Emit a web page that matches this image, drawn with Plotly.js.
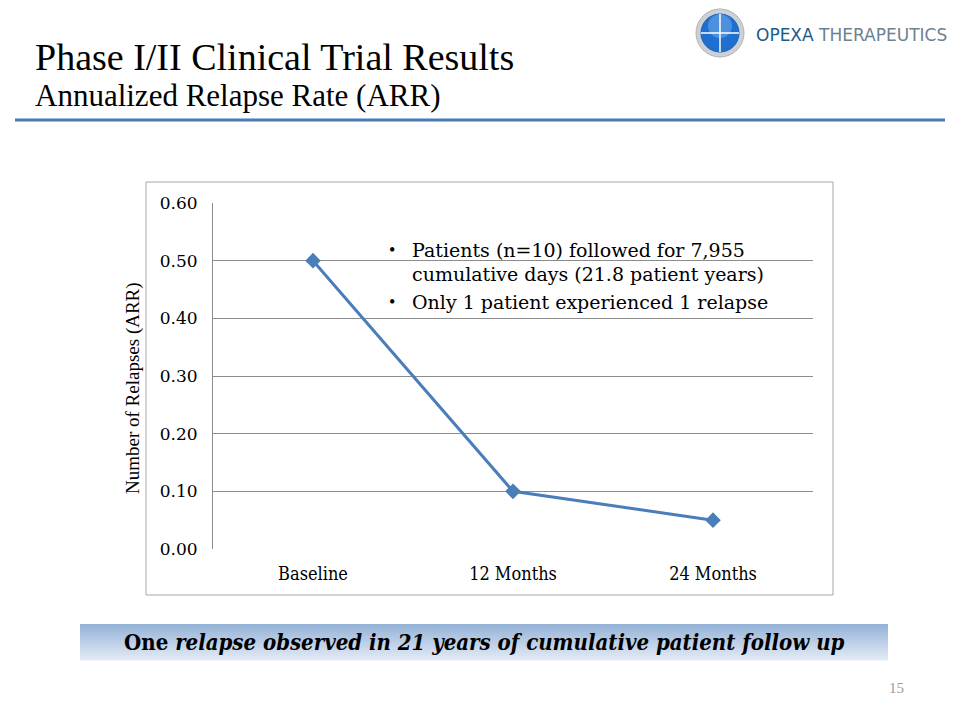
<!DOCTYPE html>
<html>
<head>
<meta charset="utf-8">
<script src="https://cdn.plot.ly/plotly-3.0.1.min.js"></script>
<style>
html,body{margin:0;padding:0;background:#fff;}
#chart{width:960px;height:720px;}
</style>
</head>
<body>
<div id="chart"></div>
<script>
// ---- data ----
var categories = ["Baseline", "12 Months", "24 Months"];
var arrValues = [0.50, 0.10, 0.05];
var yTickVals = [0, 0.1, 0.2, 0.3, 0.4, 0.5, 0.6];
var yTickText = ["0.00", "0.10", "0.20", "0.30", "0.40", "0.50", "0.60"];
var bulletLines = [
  "Patients (n=10) followed for 7,955",
  "cumulative days (21.8 patient years)",
  "Only 1 patient experienced 1 relapse"
];

// ---- layout geometry (pixels) ----
var W = 960, H = 720;
var L = 213, R = 813, T = 203, B = 549;
function px(x){ return (x - L) / (R - L); }
function py(y){ return (B - y) / (B - T); }

var serif = "Liberation Serif, Times New Roman, serif";
var wide = "DejaVu Serif, Georgia, serif";
var cond = "DejaVu Serif Condensed, DejaVu Serif, serif";

var shapes = [];
// chart frame
shapes.push({type:"rect", xref:"paper", yref:"paper", x0:px(146), x1:px(833), y0:py(595), y1:py(182),
  line:{color:"#a6a6a6", width:1}, fillcolor:"rgba(0,0,0,0)", layer:"below"});
// white box behind bullet text
shapes.push({type:"rect", xref:"paper", yref:"paper", x0:px(377), x1:px(814), y0:py(324), y1:py(231),
  line:{width:0}, fillcolor:"#ffffff", layer:"between"});
// blue rule under title
shapes.push({type:"line", xref:"paper", yref:"paper", x0:px(15), x1:px(945), y0:py(120), y1:py(120),
  line:{color:"#4a7ab4", width:3}});
// banner gradient
var bTop = 624, bBot = 660, strips = 18;
for (var i = 0; i < strips; i++) {
  var t = i / (strips - 1);
  var r = Math.round(149 + (225 - 149) * t);
  var g = Math.round(179 + (233 - 179) * t);
  var b = Math.round(215 + (245 - 215) * t);
  var y0 = bTop + (bBot - bTop) * i / strips;
  var y1 = bTop + (bBot - bTop) * (i + 1) / strips;
  shapes.push({type:"rect", xref:"paper", yref:"paper", x0:px(80), x1:px(888), y0:py(y1+0.5), y1:py(y0),
    line:{width:0}, fillcolor:"rgb("+r+","+g+","+b+")"});
}
// logo
function circ(cx, cy, rad, fill, lineColor, lw){
  return {type:"circle", xref:"paper", yref:"paper", x0:px(cx-rad), x1:px(cx+rad), y0:py(cy+rad), y1:py(cy-rad),
    fillcolor:fill, line:{color:lineColor, width:lw}};
}
shapes.push(circ(720, 33, 24, "#cdd0d4", "#b0b4b8", 1));
shapes.push(circ(720, 33, 19, "#1f6fd0", "#1a5fb5", 1));
shapes.push(circ(720, 26, 12, "rgba(130,185,240,0.45)", "rgba(0,0,0,0)", 0));
shapes.push({type:"line", xref:"paper", yref:"paper", x0:px(720), x1:px(720), y0:py(52), y1:py(14), line:{color:"#ffffff", width:1.5}});
shapes.push({type:"line", xref:"paper", yref:"paper", x0:px(701), x1:px(739), y0:py(33), y1:py(33), line:{color:"#ffffff", width:1.5}});

var annotations = [
  {xref:"paper", yref:"paper", x:px(33), y:py(57), xanchor:"left", yanchor:"middle", showarrow:false,
   text:"Phase I/II Clinical Trial Results", font:{family:serif, size:38, color:"#000"}},
  {xref:"paper", yref:"paper", x:px(33), y:py(96), xanchor:"left", yanchor:"middle", showarrow:false,
   text:"Annualized Relapse Rate (ARR)", font:{family:serif, size:31, color:"#000"}},
  {xref:"paper", yref:"paper", x:px(754), y:py(35), xanchor:"left", yanchor:"middle", showarrow:false,
   text:"<span style='color:#1d5b88'>OPEXA</span> THERAPEUTICS", font:{family:"DejaVu Sans, sans-serif", size:17, color:"#6d8192"}},
  {xref:"paper", yref:"paper", x:px(133), y:py(388), xanchor:"center", yanchor:"middle", showarrow:false, textangle:-90,
   text:"Number of Relapses (ARR)", font:{family:serif, size:19, color:"#000"}},
  {xref:"paper", yref:"paper", x:px(387), y:py(250), xanchor:"left", yanchor:"middle", showarrow:false,
   text:"•", font:{family:serif, size:18, color:"#000"}},
  {xref:"paper", yref:"paper", x:px(387), y:py(302), xanchor:"left", yanchor:"middle", showarrow:false,
   text:"•", font:{family:serif, size:18, color:"#000"}},
  {xref:"paper", yref:"paper", x:px(410), y:py(250), xanchor:"left", yanchor:"middle", showarrow:false,
   text:bulletLines[0], font:{family:wide, size:19, color:"#000"}},
  {xref:"paper", yref:"paper", x:px(410), y:py(274), xanchor:"left", yanchor:"middle", showarrow:false,
   text:bulletLines[1], font:{family:wide, size:19, color:"#000"}},
  {xref:"paper", yref:"paper", x:px(410), y:py(302), xanchor:"left", yanchor:"middle", showarrow:false,
   text:bulletLines[2], font:{family:wide, size:19, color:"#000"}},
  {xref:"paper", yref:"paper", x:px(484), y:py(642), xanchor:"center", yanchor:"middle", showarrow:false,
   text:"<b>One <i>relapse observed in 21 years of cumulative patient follow up</i></b>", font:{family:cond, size:22, color:"#000"}},
  {xref:"paper", yref:"paper", x:px(896), y:py(688), xanchor:"center", yanchor:"middle", showarrow:false,
   text:"15", font:{family:serif, size:15, color:"#9a9a9a"}}
];

var trace = {
  type:"scatter", mode:"lines+markers",
  x:categories, y:arrValues,
  line:{color:"#4a7ebb", width:3},
  marker:{symbol:"diamond", size:12, color:"#4a7ebb"},
  hoverinfo:"skip"
};

var layout = {
  width:W, height:H,
  margin:{l:L, r:W-R, t:T, b:H-B, pad:0},
  paper_bgcolor:"#ffffff", plot_bgcolor:"rgba(0,0,0,0)",
  showlegend:false,
  xaxis:{type:"category", range:[-0.5, 2.5], showgrid:false, zeroline:false,
    showline:false, ticks:"", ticklabelstandoff:12,
    tickfont:{family:cond, size:18, color:"#000"}},
  yaxis:{range:[0, 0.6], tickvals:yTickVals, ticktext:yTickText, showgrid:true,
    gridcolor:"#8c8c8c", gridwidth:1, zeroline:false, showline:true, linecolor:"#8c8c8c", linewidth:1,
    ticks:"", ticklabelstandoff:11, tickfont:{family:wide, size:17, color:"#000"}},
  shapes:shapes,
  annotations:annotations
};

Plotly.newPlot("chart", [trace], layout, {displayModeBar:false, staticPlot:true});
</script>
</body>
</html>
